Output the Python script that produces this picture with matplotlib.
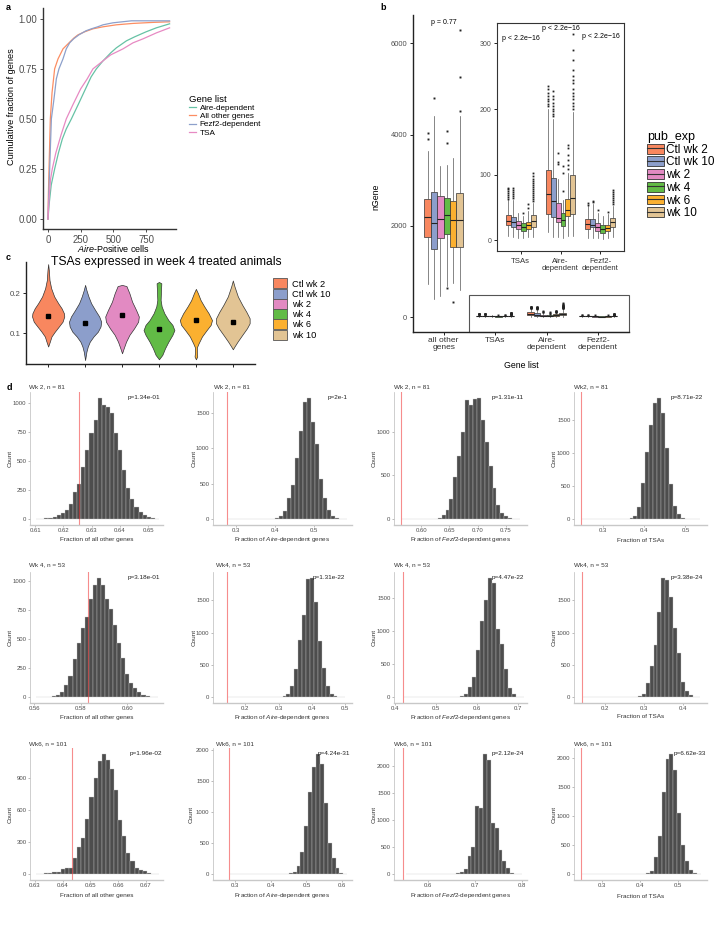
import matplotlib
matplotlib.use('Agg')
import matplotlib.pyplot as plt
from matplotlib.patches import Rectangle, Patch
from matplotlib.lines import Line2D
from matplotlib.legend_handler import HandlerTuple

plt.rcParams['font.family'] = ['Liberation Sans', 'DejaVu Sans']
plt.rcParams['mathtext.fontset'] = 'custom'
plt.rcParams['mathtext.rm'] = 'Liberation Sans'
plt.rcParams['mathtext.it'] = 'Liberation Sans:italic'

W, H = 728, 942

# ---------------- Panel a data: cumulative curves ----------------
a_labels = ['Aire-dependent', 'All other genes', 'Fezf2-dependent', 'TSA']
a_colors = ['#66C2A5', '#FC8D62', '#8DA0CB', '#E78AC3']
aire_x = [0, 10, 25, 51, 80, 110, 140, 179, 230, 280, 330, 370, 421, 480, 523, 600, 663, 750, 829, 930]
aire_y = [0, 0.08, 0.17, 0.25, 0.33, 0.40, 0.45, 0.50, 0.57, 0.64, 0.71, 0.75, 0.79, 0.83, 0.855, 0.89, 0.91, 0.935, 0.955, 0.975]
other_x = [0, 3, 8, 18, 31, 51, 77, 115, 161, 200, 230, 280, 344, 420, 523, 650, 800, 930]
other_y = [0, 0.12, 0.25, 0.50, 0.63, 0.75, 0.80, 0.85, 0.88, 0.905, 0.92, 0.935, 0.95, 0.96, 0.97, 0.977, 0.982, 0.985]
fezf2_x = [0, 6, 13, 26, 46, 64, 84, 115, 140, 166, 196, 237, 290, 332, 380, 421, 497, 638, 930]
fezf2_y = [0, 0.12, 0.25, 0.50, 0.60, 0.70, 0.75, 0.80, 0.85, 0.88, 0.90, 0.92, 0.94, 0.95, 0.96, 0.97, 0.98, 0.99, 0.99]
tsa_x = [0, 8, 20, 33, 60, 100, 140, 190, 250, 300, 344, 421, 480, 574, 650, 727, 830, 930]
tsa_y = [0, 0.10, 0.20, 0.25, 0.33, 0.42, 0.50, 0.57, 0.65, 0.70, 0.75, 0.79, 0.82, 0.85, 0.88, 0.90, 0.93, 0.955]
a_xticks = [0, 250, 500, 750]
a_yticks = [0.0, 0.25, 0.5, 0.75, 1.0]
a_yticklabels = ['0.00', '0.25', '0.50', '0.75', '1.00']

# ---------------- Panel b data: boxplot statistics ----------------
b_groups = ['Ctl wk 2', 'Ctl wk 10', 'wk 2', 'wk 4', 'wk 6', 'wk 10']
b_colors = ['#F8875F', '#8C9ECB', '#E28AC2', '#62BB46', '#FBB030', '#E2C494']
b_categories = ['all other\ngenes', 'TSAs', 'Aire-\ndependent', 'Fezf2-\ndependent']
inset_categories = ['TSAs', 'Aire-\ndependent', 'Fezf2-\ndependent']

other_q1 = [1759, 1497, 1737, 1825, 1533, 1540]
other_med = [2197, 2066, 2154, 2248, 2124, 2124]
other_q3 = [2591, 2745, 2650, 2613, 2540, 2723]
other_lo = [737, 401, 460, 679, 740, 606]
other_hi = [3635, 4400, 3307, 3330, 3482, 4400]
other_fliers = [[4022, 3905], [4789], [], [4066, 3810, 635], [328], [4510, 5250, 6280]]

tsa_q1 = [23, 20, 18, 15, 18, 20]
tsa_med = [29.5, 28, 23, 20, 23, 29.5]
tsa_q3 = [38, 35.6, 29.5, 26, 28, 38]
tsa_lo = [6.6, 5, 4, 4, 5, 5]
tsa_hi = [62, 62, 42, 37, 45, 57]
tsa_fliers = [[63, 66, 69, 72, 75, 78, 80], [64, 67, 70, 73, 76, 80], [], [42], [50, 56],
              [60, 63, 66, 69, 72, 75, 78, 81, 84, 87, 90, 94, 98, 103]]

aire_q1 = [40.7, 36, 28, 22, 37, 40]
aire_med = [70, 60, 34.6, 30.5, 47, 65]
aire_q3 = [107, 95.6, 57, 42, 63.5, 100]
aire_lo = [12, 5.6, 5, 3, 6.6, 6.6]
aire_hi = [200, 185, 93, 62, 102, 195]
aire_fliers = [[205, 208, 212, 216, 220, 225, 230, 235],
               [190, 193, 197, 200, 205, 210, 215, 220, 228],
               [116, 120, 133], [75, 103, 113], [108, 115, 122, 130, 140, 145],
               [200, 205, 210, 215, 220, 225, 230, 240, 245, 250, 260, 275, 290, 315]]

fezf2_q1 = [18, 20, 15, 11, 14, 20]
fezf2_med = [24.4, 23, 20, 17, 19, 28]
fezf2_q3 = [32, 32, 27, 24, 24, 33.5]
fezf2_lo = [4, 4, 4, 2, 3, 5]
fezf2_hi = [52, 56, 42, 37, 40, 52]
fezf2_fliers = [[54, 57], [58, 60], [46], [], [43], [55, 58, 61, 64, 67, 70, 73, 76]]

b_pval_main = 'p = 0.77'
b_pval_inset = ['p < 2.2e\u221216', 'p < 2.2e\u221216', 'p < 2.2e\u221216']

# ---------------- Panel c data: violin outlines ----------------
c_title = 'TSAs expressed in week 4 treated animals'
ctl2_v = [0.067, 0.079, 0.092, 0.104, 0.117, 0.129, 0.142, 0.150, 0.1625, 0.175, 0.192, 0.2125, 0.233, 0.258, 0.273]
ctl2_w = [0.0, 0.045, 0.09, 0.18, 0.29, 0.39, 0.436, 0.427, 0.364, 0.273, 0.164, 0.082, 0.036, 0.018, 0.0]
ctl10_v = [0.033, 0.054, 0.067, 0.079, 0.092, 0.104, 0.117, 0.129, 0.142, 0.158, 0.175, 0.192, 0.208, 0.221]
ctl10_w = [0, 0.036, 0.073, 0.127, 0.227, 0.345, 0.418, 0.436, 0.382, 0.273, 0.164, 0.091, 0.036, 0]
wk2_v = [0.05, 0.0625, 0.079, 0.096, 0.1125, 0.129, 0.142, 0.158, 0.179, 0.2, 0.218, 0.221]
wk2_w = [0, 0.045, 0.109, 0.2, 0.327, 0.436, 0.455, 0.382, 0.273, 0.2, 0.12, 0]
wk4_v = [0.035, 0.046, 0.0625, 0.079, 0.096, 0.108, 0.121, 0.133, 0.15, 0.167, 0.183, 0.208, 0.225, 0.2283]
wk4_w = [0, 0.091, 0.164, 0.255, 0.364, 0.418, 0.364, 0.255, 0.145, 0.073, 0.045, 0.055, 0.064, 0]
wk6_v = [0.035, 0.042, 0.05, 0.065, 0.075, 0.092, 0.108, 0.121, 0.133, 0.15, 0.167, 0.183, 0.2, 0.211]
wk6_w = [0, 0.036, 0.027, 0.027, 0.073, 0.164, 0.291, 0.4, 0.436, 0.345, 0.227, 0.127, 0.055, 0]
wk10_v = [0.06, 0.067, 0.079, 0.096, 0.1125, 0.125, 0.1375, 0.154, 0.171, 0.192, 0.217, 0.232]
wk10_w = [0, 0.045, 0.127, 0.255, 0.382, 0.455, 0.455, 0.364, 0.255, 0.136, 0.045, 0]
c_medians = [0.144, 0.127, 0.146, 0.110, 0.133, 0.129]
c_yticks = [0.1, 0.2]

# ---------------- Panel d data: permutation histograms ----------------
d_xlabels = ['Fraction of all other genes', r'Fraction of $\mathit{Aire}$-dependent genes',
             r'Fraction of $\mathit{Fezf2}$-dependent genes', 'Fraction of TSAs']
d_titles = [['Wk 2, n = 81', 'Wk 2, n = 81', 'Wk 2, n = 81', 'Wk2, n = 81'],
            ['Wk 4, n = 53', 'Wk4, n = 53', 'Wk 4, n = 53', 'Wk4, n = 53'],
            ['Wk6, n = 101', 'Wk6, n = 101', 'Wk6, n = 101', 'Wk6, n = 101']]
d_pvals = [['p=1.34e-01', 'p=2e-1', 'p=1.31e-11', 'p=8.71e-22'],
           ['p=3.18e-01', 'p=1.31e-22', 'p=4.47e-22', 'p=3.38e-24'],
           ['p=1.96e-02', 'p=4.24e-31', 'p=2.12e-24', 'p=6.62e-33']]
d_observed = [[0.6255, 0.276, 0.565, 0.245],
              [0.583, 0.1445, 0.421, 0.143],
              [0.6432, 0.2844, 0.5477, 0.2447]]
d_bin_start = [[0.6104, 0.2787, 0.567, 0.249],
               [0.5607, 0.1474, 0.4227, 0.1458],
               [0.6304, 0.2872, 0.5527, 0.2474]]
d_bin_width = [[0.00145, 0.0102, 0.00692, 0.00958],
               [0.00175, 0.01175, 0.00973, 0.00994],
               [0.00148, 0.0109, 0.00824, 0.01044]]
wk2_other_counts = [1, 2, 4, 8, 15, 30, 50, 80, 130, 230, 305, 450, 595, 745, 855, 1045, 985, 970, 915, 740,
                    595, 420, 270, 175, 100, 58, 30, 15, 5, 2]
wk2_aire_counts = [0, 0, 0, 0, 0, 0, 0, 0, 0, 0, 0, 1, 15, 40, 110, 300, 475, 870, 1250, 1665,
                   1715, 1370, 1060, 570, 300, 124, 38, 14, 3, 1]
wk2_fezf2_counts = [0, 0, 0, 0, 0, 0, 0, 2, 5, 12, 40, 100, 230, 480, 720, 1000, 1360, 1300, 1370, 1385,
                    1130, 880, 610, 360, 165, 70, 30, 12, 4, 1]
wk2_tsa_counts = [0, 0, 0, 0, 0, 0, 0, 0, 0, 0, 0, 3, 10, 50, 180, 540, 1010, 1420, 1750, 1830,
                  1610, 1070, 530, 200, 70, 20, 5, 1, 0, 0]
wk4_other_counts = [0, 0, 1, 2, 5, 15, 40, 100, 180, 330, 470, 600, 690, 850, 970, 1030, 970, 850, 760, 620,
                    470, 340, 200, 120, 75, 40, 20, 8, 3, 1]
wk4_aire_counts = [0, 0, 0, 0, 0, 0, 0, 0, 0, 0, 0, 0, 0, 0, 10, 50, 170, 440, 890, 1280,
                   1830, 1850, 1470, 870, 450, 170, 50, 10, 2, 0]
wk4_fezf2_counts = [0, 0, 0, 0, 0, 0, 0, 0, 0, 0, 0, 0, 0, 3, 15, 50, 150, 310, 720, 1160,
                    1480, 1810, 1730, 1040, 810, 420, 140, 40, 8, 2]
wk4_tsa_counts = [0, 0, 0, 0, 0, 0, 0, 0, 0, 0, 0, 0, 0, 0, 10, 50, 220, 480, 810, 1320,
                  1850, 1820, 1560, 1080, 690, 240, 90, 25, 5, 1]
wk6_other_counts = [2, 3, 5, 8, 15, 20, 45, 55, 60, 150, 250, 340, 520, 720, 900, 1060, 1125, 1070, 980, 790,
                    510, 360, 200, 120, 60, 35, 25, 8, 3, 1]
wk6_aire_counts = [0, 0, 0, 0, 0, 0, 0, 0, 0, 0, 0, 0, 0, 0, 0, 10, 40, 130, 350, 770,
                   1320, 1720, 1935, 1780, 1150, 500, 260, 90, 20, 3]
wk6_fezf2_counts = [0, 0, 0, 0, 0, 0, 0, 0, 0, 0, 0, 0, 5, 15, 40, 90, 330, 500, 1270, 1230,
                    2230, 2110, 950, 860, 440, 250, 110, 25, 5, 1]
wk6_tsa_counts = [0, 0, 0, 0, 0, 0, 0, 0, 0, 0, 0, 0, 0, 0, 0, 2, 10, 60, 290, 660,
                  1410, 1990, 2070, 1790, 1050, 500, 220, 70, 15, 3]
d_counts = [[wk2_other_counts, wk2_aire_counts, wk2_fezf2_counts, wk2_tsa_counts],
            [wk4_other_counts, wk4_aire_counts, wk4_fezf2_counts, wk4_tsa_counts],
            [wk6_other_counts, wk6_aire_counts, wk6_fezf2_counts, wk6_tsa_counts]]
d_xticks = [[[0.61, 0.62, 0.63, 0.64, 0.65], [0.3, 0.4, 0.5], [0.60, 0.65, 0.70, 0.75], [0.3, 0.4, 0.5]],
            [[0.56, 0.58, 0.60], [0.2, 0.3, 0.4, 0.5], [0.4, 0.5, 0.6, 0.7], [0.2, 0.3, 0.4]],
            [[0.63, 0.64, 0.65, 0.66, 0.67], [0.3, 0.4, 0.5, 0.6], [0.6, 0.7, 0.8], [0.3, 0.4, 0.5]]]
d_xfmt = [['%.2f', '%.1f', '%.2f', '%.1f'], ['%.2f', '%.1f', '%.1f', '%.1f'], ['%.2f', '%.1f', '%.1f', '%.1f']]
d_yticks = [[[0, 250, 500, 750, 1000], [0, 500, 1000, 1500], [0, 500, 1000], [0, 500, 1000, 1500]],
            [[0, 250, 500, 750, 1000], [0, 500, 1000, 1500], [0, 500, 1000, 1500], [0, 500, 1000, 1500]],
            [[0, 300, 600, 900], [0, 500, 1000, 1500, 2000], [0, 500, 1000, 1500, 2000], [0, 500, 1000, 1500, 2000]]]
d_xlim = [[(0.6082, 0.6553), (0.2413, 0.598), (0.552, 0.787), (0.2287, 0.5526)],
          [(0.5581, 0.6155), (0.1037, 0.52), (0.3984, 0.7228), (0.122, 0.461)],
          [(0.6282, 0.6762), (0.2387, 0.6275), (0.528, 0.811), (0.2254, 0.576)]]

# ---------------- layout helpers ----------------
fig = plt.figure(figsize=(W / 100, H / 100), dpi=100)


def add_ax(l, t, r, b):
    return fig.add_axes([l / W, 1 - b / H, (r - l) / W, (b - t) / H])


def ftext(x, y, s, **kw):
    return fig.text(x / W, 1 - y / H, s, **kw)


# ================= Panel a =================
axa = add_ax(43, 8, 176, 229)
for xs, ys, col, lab in zip([aire_x, other_x, fezf2_x, tsa_x], [aire_y, other_y, fezf2_y, tsa_y], a_colors, a_labels):
    axa.plot(xs, ys, color=col, lw=0.9, label=lab)
axa.set_xlim(-38, 979)
axa.set_ylim(-0.05, 1.054)
axa.set_xticks(a_xticks)
axa.set_yticks(a_yticks)
axa.set_yticklabels(a_yticklabels)
for s in ['top', 'right']:
    axa.spines[s].set_visible(False)
for s in ['left', 'bottom']:
    axa.spines[s].set_linewidth(1.0)
    axa.spines[s].set_color('#333333')
axa.tick_params(labelsize=6.9, length=2.5, width=0.6, pad=1.5, colors='#333333', labelcolor='#4D4D4D')
ftext(12, 107, 'Cumulative fraction of genes', rotation=90, fontsize=6.6, ha='center', va='center')
ftext(114, 249, r'$\mathit{Aire}$-Positive cells', fontsize=6.5, ha='center', va='center')
leg = axa.legend(title='Gene list', loc='upper left', bbox_to_anchor=(189 / W, 1 - 95 / H),
                 bbox_transform=fig.transFigure, frameon=False, fontsize=5.9, title_fontsize=6.8,
                 handlelength=0.9, handletextpad=0.4, labelspacing=0.05, borderpad=0, borderaxespad=0)
leg._legend_box.align = 'left'

# ================= Panel b =================
def stats_list(q1, med, q3, lo, hi, fl):
    return [dict(q1=a, med=b, q3=c, whislo=d, whishi=e, fliers=f)
            for a, b, c, d, e, f in zip(q1, med, q3, lo, hi, fl)]


other_stats = stats_list(other_q1, other_med, other_q3, other_lo, other_hi, other_fliers)
tsa_stats = stats_list(tsa_q1, tsa_med, tsa_q3, tsa_lo, tsa_hi, tsa_fliers)
aire_stats = stats_list(aire_q1, aire_med, aire_q3, aire_lo, aire_hi, aire_fliers)
fezf2_stats = stats_list(fezf2_q1, fezf2_med, fezf2_q3, fezf2_lo, fezf2_hi, fezf2_fliers)


def draw_boxes(ax, cat_pos, stats, msize=1.4):
    for g, st in enumerate(stats):
        pos = cat_pos + (g - 2.5) * 0.125
        ax.bxp([st], positions=[pos], widths=0.125, patch_artist=True, showcaps=False, manage_ticks=False,
               boxprops=dict(facecolor=b_colors[g], edgecolor='#333333', linewidth=0.5),
               medianprops=dict(color='#222222', linewidth=0.8),
               whiskerprops=dict(color='#555555', linewidth=0.5),
               flierprops=dict(marker='s', markersize=msize, markerfacecolor='#222222', markeredgecolor='none'))


axb = add_ax(412.7, 15, 629, 331.7)
for i, st in enumerate([other_stats, tsa_stats, aire_stats, fezf2_stats]):
    draw_boxes(axb, i + 1, st)
axb.set_xlim(0.4, 4.6)
axb.set_ylim(-315, 6615)
axb.set_yticks([0, 2000, 4000, 6000])
axb.set_xticks([1, 2, 3, 4])
axb.set_xticklabels(b_categories, fontsize=6.0, linespacing=1.0)
for s in ['top', 'right']:
    axb.spines[s].set_visible(False)
for s in ['left', 'bottom']:
    axb.spines[s].set_linewidth(1.0)
    axb.spines[s].set_color('#222222')
axb.tick_params(axis='y', labelsize=5.4, length=2.5, width=0.6, pad=1.5, labelcolor='#4D4D4D')
axb.tick_params(axis='x', length=2.5, width=0.6, pad=1.5, labelcolor='#333333')
axb.text(1, 6448, b_pval_main, fontsize=5, ha='center', va='center')
axb.add_patch(Rectangle((1.5, -315), 3.1, 811, fill=False, edgecolor='#555555', lw=0.8, clip_on=False))
ftext(376, 197, 'nGene', rotation=90, fontsize=6.3, ha='center', va='center')
ftext(521, 365, 'Gene list', fontsize=6.3, ha='center', va='center')

axi = add_ax(496.7, 23.3, 624.3, 250.7)
for i, st in enumerate([tsa_stats, aire_stats, fezf2_stats]):
    draw_boxes(axi, i + 1, st, msize=1.3)
axi.set_xlim(0.4, 3.6)
axi.set_ylim(-15.75, 330.75)
axi.set_yticks([0, 100, 200, 300])
axi.set_xticks([1, 2, 3])
axi.set_xticklabels(inset_categories, fontsize=5.6, linespacing=1.0)
for s in axi.spines.values():
    s.set_linewidth(0.8)
    s.set_color('#333333')
axi.tick_params(axis='y', labelsize=5.0, length=2.5, width=0.6, pad=1.5, labelcolor='#4D4D4D')
axi.tick_params(axis='x', length=2.5, width=0.6, pad=2.5, labelcolor='#333333')
for i, (txt, yv) in enumerate(zip(b_pval_inset, [308, 323, 310])):
    axi.text(i + 1, yv, txt, fontsize=5, ha='center', va='center')

b_handles = [(Patch(facecolor=c, edgecolor='#333333', linewidth=0.6), Line2D([], [], color='#333333', lw=0.8))
             for c in b_colors]
legb = axb.legend(b_handles, b_groups, title='pub_exp', handler_map={tuple: HandlerTuple(ndivide=1)},
                  loc='upper left', bbox_to_anchor=(647 / W, 1 - 131 / H), bbox_transform=fig.transFigure,
                  frameon=False, fontsize=8.5, title_fontsize=9, handlelength=1.4, handleheight=0.9,
                  handletextpad=0.2, labelspacing=0.06, borderpad=0, borderaxespad=0)
legb._legend_box.align = 'left'

# ================= Panel c =================
axc = add_ax(26, 262, 255, 364)
violins_v = [ctl2_v, ctl10_v, wk2_v, wk4_v, wk6_v, wk10_v]
violins_w = [ctl2_w, ctl10_w, wk2_w, wk4_w, wk6_w, wk10_w]
for i, (vv, ww) in enumerate(zip(violins_v, violins_w)):
    pos = i + 1
    axc.fill_betweenx(vv, [pos - w for w in ww], [pos + w for w in ww], facecolor=b_colors[i],
                      edgecolor='#333333', linewidth=0.5)
    axc.plot([pos], [c_medians[i]], marker='s', markersize=2.3, color='black', linestyle='none')
axc.set_xlim(0.4, 6.6)
axc.set_ylim(0.2 - (364 - 293.3) / 400, 0.2 + (293.3 - 262) / 400)
axc.set_xticks([1, 2, 3, 4, 5, 6])
axc.set_xticklabels([])
axc.set_yticks(c_yticks)
axc.set_yticklabels(['0.1', '0.2'])
for s in ['top', 'right']:
    axc.spines[s].set_visible(False)
for s in ['left', 'bottom']:
    axc.spines[s].set_linewidth(1.0)
    axc.spines[s].set_color('#222222')
axc.tick_params(labelsize=5.7, length=2.5, width=0.6, pad=1.5, labelcolor='#4D4D4D')
ftext(166, 262, c_title, fontsize=8.7, ha='center', va='center')
c_handles = [Patch(facecolor=c, edgecolor='#555555', linewidth=0.6) for c in b_colors]
legc = axc.legend(c_handles, b_groups, loc='upper left', bbox_to_anchor=(273 / W, 1 - 278.5 / H),
                  bbox_transform=fig.transFigure, frameon=False, fontsize=6.7, handlelength=1.5,
                  handleheight=1.25, handletextpad=0.5, labelspacing=0.02, borderpad=0, borderaxespad=0)

# ================= Panel d =================
d_cols = [[(30, 163), (213, 352), (394, 527), (574, 707)],
          [(30, 163), (213, 352), (394, 527), (574, 707)],
          [(30, 163), (213, 352), (394, 527), (574, 707)]]
d_rows = [(392, 525), (572, 703), (748, 880)]
d_title_y = [387, 565, 744]
d_title_x = [[29, 214, 394, 574], [29, 216, 394, 574], [29, 216, 394, 574]]
d_pval_x = [[128, 328, 492, 671], [128, 313, 492, 671], [130, 318, 492, 674]]
d_pval_y = [397, 578, 754]
d_xlabel_y = [540, 717, 896]
d_count_x = [[10, 194, 374, 554], [10, 194, 374, 554], [10, 191, 374, 554]]

for r in range(3):
    t, b = d_rows[r]
    for c in range(4):
        l, rr = d_cols[r][c]
        ax = add_ax(l, t, rr, b)
        counts = d_counts[r][c]
        bw = d_bin_width[r][c]
        lefts = [d_bin_start[r][c] + k * bw for k in range(len(counts))]
        ax.bar(lefts, counts, width=bw, align='edge', color='#4D4D4D', edgecolor='#C8C8C8', linewidth=0.25)
        ax.axvline(d_observed[r][c], color='#F03030', alpha=0.55, lw=0.8)
        mx = max(counts)
        ax.set_ylim(-0.05 * mx, 1.05 * mx)
        ax.set_xlim(*d_xlim[r][c])
        ax.set_xticks(d_xticks[r][c])
        ax.set_xticklabels([d_xfmt[r][c] % v for v in d_xticks[r][c]])
        ax.set_yticks(d_yticks[r][c])
        for s in ['top', 'right']:
            ax.spines[s].set_visible(False)
        ax.spines['left'].set_color('#BBBBBB')
        ax.spines['left'].set_linewidth(0.5)
        ax.spines['bottom'].set_color('#C8C8C8')
        ax.spines['bottom'].set_linewidth(1.0)
        ax.tick_params(labelsize=4.3, length=1.5, width=0.4, pad=1, colors='#888888', labelcolor='#4D4D4D')
        ftext(d_title_x[r][c], d_title_y[r], d_titles[r][c],
              fontsize=4.6, ha='left', va='center', color='#333333')
        ftext(d_pval_x[r][c], d_pval_y[r], d_pvals[r][c], fontsize=4.6, ha='left', va='center', color='#222222')
        ftext((l + rr) / 2, d_xlabel_y[r], d_xlabels[c], fontsize=4.6, ha='center', va='center', color='#333333')
        ftext(d_count_x[r][c], (t + b) / 2, 'Count', rotation=90, fontsize=4.6, ha='center', va='center',
              color='#333333')

# panel letters
for ch, (x, y) in zip('abcd', [(8, 8), (383, 8), (8, 258), (9, 387)]):
    ftext(x, y, ch, fontsize=6.5, fontweight='bold', ha='center', va='center')

fig.savefig('out.png', dpi=100)
